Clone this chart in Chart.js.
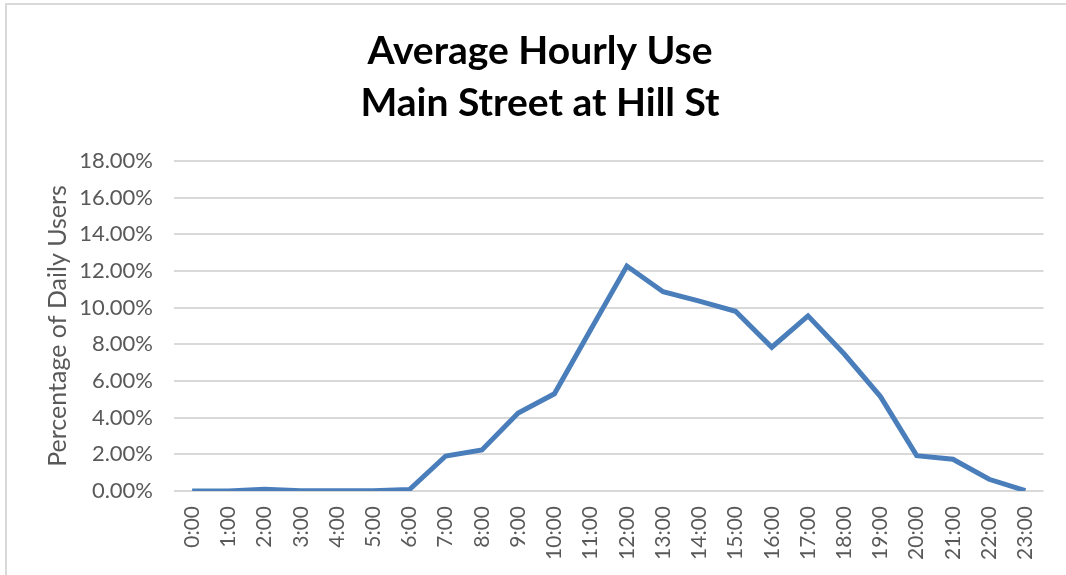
<!DOCTYPE html>
<html>
<head>
<meta charset="utf-8">
<script src="https://cdn.jsdelivr.net/npm/chart.js@4"></script>
<style>
  html, body { margin: 0; padding: 0; background: #fff; overflow: hidden; }
  #frame {
    position: absolute; left: 5px; top: 3px; width: 1100px; height: 600px;
    border-left: 2px solid #d9d9d9; border-top: 2px solid #d9d9d9;
  }
  #wrap { position: absolute; left: 0; top: 0; width: 1066px; height: 575px; }
</style>
</head>
<body>
<div id="frame"></div>
<div id="wrap"><canvas id="hourlyChart"></canvas></div>
<script>
const hours = ['0:00', '1:00', '2:00', '3:00', '4:00', '5:00', '6:00', '7:00', '8:00', '9:00', '10:00', '11:00',
    '12:00', '13:00', '14:00', '15:00', '16:00', '17:00', '18:00', '19:00', '20:00', '21:00', '22:00', '23:00'];
// percent of daily users per hour
const usePct = [0.0, 0.0, 0.1, 0.02, 0.02, 0.02, 0.08, 1.91, 2.24, 4.25, 5.3, 8.8,
    12.27, 10.87, 10.36, 9.8, 7.84, 9.55, 7.47, 5.15, 1.93, 1.73, 0.64, 0.02];
const titleLines = ['Average Hourly Use', 'Main Street at Hill St'];
const yAxisTitle = 'Percentage of Daily Users';

const ctx = document.getElementById('hourlyChart');

new Chart(ctx, {
    type: 'line',
    data: {
        labels: hours,
        datasets: [{
            label: 'use',
            data: usePct,
            borderColor: '#4a7ebb',
            borderWidth: 5,
            pointRadius: 0,
            tension: 0,
            fill: false
        }]
    },
    options: {
        responsive: true,
        maintainAspectRatio: false,
        animation: false,
        layout: {
            padding: { top: 26, right: 20, bottom: 0, left: 34 }
        },
        plugins: {
            legend: { display: false },
            tooltip: { enabled: false },
            title: {
                display: true,
                text: titleLines,
                color: '#000',
                font: { family: 'Lato', size: 39, weight: 'bold', lineHeight: 1.32 },
                padding: { top: 0, bottom: 32 }
            }
        },
        scales: {
            x: {
                offset: true,
                grid: { display: false, drawTicks: false },
                border: { display: false },
                ticks: {
                    color: '#595959',
                    font: { family: 'Lato', size: 21 },
                    maxRotation: 90,
                    minRotation: 90,
                    padding: 15,
                    autoSkip: false
                },
                afterFit: function (scale) { scale.height = 84; }
            },
            y: {
                min: 0,
                max: 18,
                grid: { color: '#d9d9d9', lineWidth: 2, drawTicks: false },
                border: { display: false },
                ticks: {
                    stepSize: 2,
                    color: '#595959',
                    font: { family: 'Lato', size: 22 },
                    padding: 21,
                    callback: function (v) { return v.toFixed(2) + '%'; }
                },
                title: {
                    display: true,
                    text: yAxisTitle,
                    color: '#595959',
                    font: { family: 'Lato', size: 25 },
                    padding: { top: 9, bottom: 0 }
                },
                afterFit: function (scale) { scale.width = 140; }
            }
        }
    }
});
</script>
</body>
</html>
